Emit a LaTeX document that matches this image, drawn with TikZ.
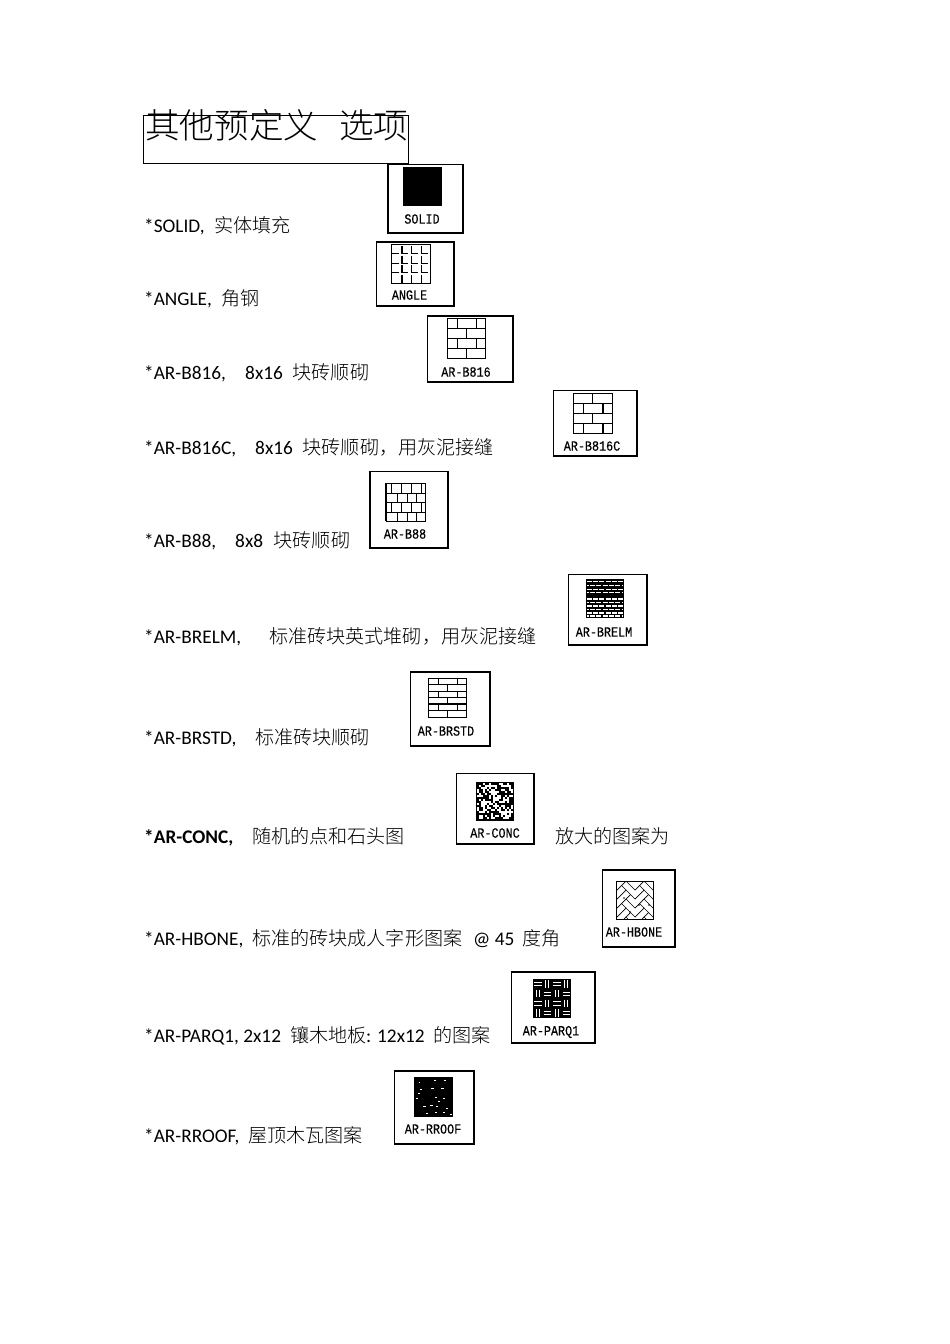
\documentclass[tikz,border=0pt]{standalone}
\usepackage{fontspec}
\setmainfont{Carlito}
\newfontfamily\cjk[UprightFont=* Light]{Noto Sans CJK SC}
\newfontfamily\lblfont[FakeStretch=0.84,FakeBold=0.25]{Liberation Mono}
\usetikzlibrary{calc}
\newcommand{\seg}[2]{\makebox[#1pt][l]{#2}}
\newcommand{\zh}[1]{{\cjk\fontsize{19.1}{22}\selectfont #1}}
\tikzset{
  rowtext/.style={anchor=base west,inner sep=0pt,font=\fontsize{19.3}{22}\selectfont,text=black},
  titletext/.style={anchor=base west,inner sep=0pt},
  framebox/.style={draw=black,line width=1.1pt,fill=white},
  shadowline/.style={draw=black,line width=1.8pt},
  patlabel/.style={inner sep=0pt,font=\lblfont\fontsize{14}{15}\selectfont},
  patline/.style={draw=black,line width=0.9pt},
  patthick/.style={draw=black,line width=1.9pt}
}
% name, x0,y0,x1,y1, label, lx,ly
\newcommand{\patbox}[8]{%
  \draw[framebox] (#2,#3) rectangle (#4,#5);
  \draw[shadowline] (#4,#3) -- (#4,#5) -- (#2,#5);
  \node[patlabel] (#1) at (#7,#8) {#6};
}
\begin{document}
\begin{tikzpicture}[x=1pt,y=-1pt]
\useasboundingbox (0,0) rectangle (950,1344);
\fill[white] (0,0) rectangle (950,1344);

% title
\draw[line width=0.8pt] (143.5,115) rectangle (408,163);
\node[titletext] (title) at (145,138) {{\cjk\fontsize{34.6}{40}\selectfont 其他预定义\hspace{21pt}选项}};

% text rows
\node[rowtext] (r1) at (144,232) {\seg{70}{*SOLID,}\zh{实体填充}};
\node[rowtext] (r2) at (144,305) {\seg{77}{*ANGLE,}\zh{角钢}};
\node[rowtext] (r3) at (144,379) {\seg{101}{*AR-B816,}\seg{47.5}{8x16}\zh{块砖顺砌}};
\node[rowtext] (r4) at (144,454) {\seg{111}{*AR-B816C,}\seg{47.5}{8x16}\zh{块砖顺砌，用灰泥接缝}};
\node[rowtext] (r5) at (144,547) {\seg{91}{*AR-B88,}\seg{38.5}{8x8}\zh{块砖顺砌}};
\node[rowtext] (r6) at (144,643) {\seg{125}{*AR-BRELM,}\zh{标准砖块英式堆砌，用灰泥接缝}};
\node[rowtext] (r7) at (144,744) {\seg{111}{*AR-BRSTD,}\zh{标准砖块顺砌}};
\node[rowtext] (r8) at (144,843) {\seg{108}{\textbf{*AR-CONC,}}\seg{303}{\zh{随机的点和石头图}}\zh{放大的图案为}};
\node[rowtext] (r9) at (144,945) {\seg{108}{*AR-HBONE,}\seg{221}{\zh{标准的砖块成人字形图案}}\seg{49}{@ 45}\zh{度角}};
\node[rowtext] (r10) at (144,1042) {\seg{146}{*AR-PARQ1, 2x12}\seg{76}{\zh{镶木地板}}\seg{67}{: 12x12}\zh{的图案}};
\node[rowtext] (r11) at (144,1142) {\seg{104}{*AR-RROOF,}\zh{屋顶木瓦图案}};

% SOLID
\patbox{lsolid}{388}{164.5}{463}{233}{SOLID}{422}{219}
\fill[black] (403,167) rectangle (442,206);

% ANGLE
\patbox{langle}{376.5}{242}{454}{306}{ANGLE}{409.5}{295}
\begin{scope}[shift={(391,244)}]
  \draw[patline] (0,0) rectangle (39,39);
  \foreach \ri in {0,1,2,3}{
    \foreach \ci in {0,1,2,3}{
      \ifnum\ri<3 \draw[patline] ({\ci*9.7+0.5},{\ri*9.7+9.5}) -- ({\ci*9.7+7.5},{\ri*9.7+9.5}); \fi
    }
    \foreach \ci/\wd in {1/1.5,2/0.8,3/0.8}{
      \draw[draw=black,line width=\wd pt] ({\ci*9.7+1.2},{\ri*9.7+2}) -- ({\ci*9.7+1.2},{min(\ri*9.7+9.5,39)});
    }
  }
\end{scope}

% AR-B816
\patbox{lbes}{427.5}{316}{513}{382}{AR-B816}{466}{372}
\begin{scope}[shift={(447,318)}]
  \draw[patline] (0,0) rectangle (38,40);
  \foreach \y in {10,20,30}{\draw[patline] (0,\y) -- (38,\y);}
  \foreach \y/\x in {0/10,0/29,10/19,20/10,20/29,30/19}{\draw[patline] (\x,\y) -- (\x,\y+10);}
\end{scope}

% AR-B816C
\patbox{lbesc}{553.5}{390.5}{637}{456}{AR-B816C}{592}{446}
\begin{scope}[shift={(573,393)}]
  \draw[patline] (0,0) rectangle (39,40);
  \foreach \y in {10,20,30}{\draw[patline] (0,\y) -- (39,\y);}
  \foreach \y/\x in {0/19,10/10,20/19,30/10}{\draw[patline] (\x,\y) -- (\x,\y+10);}
  \foreach \y in {10,30}{\draw[patthick] (30,\y) -- (30,\y+10);}
\end{scope}

% AR-B88
\patbox{lbee}{370}{471.5}{448}{548}{AR-B88}{405}{534}
\begin{scope}[shift={(386,483)}]
  \draw[patline] (0,0) rectangle (39,38);
  \draw[patthick] (0,0) -- (0,38);
  \foreach \y in {10,19,29}{\draw[patline] (0,\y) -- (39,\y);}
  \foreach \x in {5,15,25,35}{
    \draw[patline] (\x,0) -- (\x,10);
    \draw[patline] (\x,19) -- (\x,29);
  }
  \foreach \x in {11,21,30}{
    \draw[patline] (\x,10) -- (\x,19);
    \draw[patline] (\x,29) -- (\x,38);
  }
\end{scope}

% AR-BRELM
\patbox{lbrelm}{568.5}{574.5}{647}{645}{AR-BRELM}{604}{632}
\begin{scope}[shift={(586,579)}]
  \fill[black] (0,0) rectangle (38,39);
  \foreach \y/\o in {2.5/0,6.5/3,10.5/0,13.5/3,20/0,23.5/3,27/0,30.5/3,34/0,37/3}{
    \draw[white,line width=1.4pt,dash pattern=on 5pt off 1.3pt,dash phase=\o pt] (0.8,\y) -- (37.2,\y);
  }
\end{scope}

% AR-BRSTD
\patbox{lbrstd}{410.5}{672}{490}{746}{AR-BRSTD}{446}{731}
\begin{scope}[shift={(428,678)}]
  \draw[patline] (0,0) rectangle (38,39);
  \foreach \y in {6.5,13,19.5,32.5}{\draw[patline] (0,\y) -- (38,\y);}
  \draw[patthick] (0,26) -- (38,26);
  \foreach \y/\x in {0/10,0/29,6.5/19,13/10,13/29,19.5/19,26/10,26/29,32.5/19}{\draw[patline] (\x,\y) -- (\x,\y+6.5);}
\end{scope}

% AR-CONC
\patbox{lconc}{456.5}{773.5}{534}{844}{AR-CONC}{495}{833}
\begin{scope}[shift={(476,782)}]
  \fill[black] (0,0) rectangle (38,39);
  \pgfmathsetseed{77}
  \foreach \ii in {0,...,17}{
    \foreach \jj in {0,...,17}{
      \pgfmathsetmacro{\rv}{rand}
      \ifdim\rv pt<0.05pt
        \fill[white] ({\ii*2+1},{\jj*2+1}) rectangle ++(2,2);
      \fi
    }
  }
\end{scope}

% AR-HBONE
\patbox{lhbone}{602.5}{870}{675}{947}{AR-HBONE}{634}{932}
\begin{scope}[shift={(616,881)}]
  \begin{scope}
    \clip (0,0) rectangle (37,38);
    \foreach \ri in {-2,...,5}{
      \foreach \ci in {-1,0,1,2}{
        \draw[line width=0.7pt] ({\ci*18+1},{\ri*9+9}) -- ({\ci*18+10},{\ri*9}) -- ({\ci*18+19},{\ri*9+9});
      }
    }
    \foreach \ri in {-2,0,2,4}{
      \foreach \ci in {-1,0,1,2}{
        \draw[line width=0.7pt] ({\ci*18+5.5},{\ri*9+4.5}) -- ({\ci*18+10},{\ri*9+9});
        \draw[line width=0.7pt] ({\ci*18+14.5},{\ri*9+13.5}) -- ({\ci*18+10},{\ri*9+18});
      }
    }
    \foreach \x/\y in {8/17,23/24,33/24,14/31}{\fill (\x,\y) circle (0.8);}
  \end{scope}
  \draw[patline] (0,0) rectangle (37,38);
\end{scope}

% AR-PARQ1
\patbox{lparq}{511.5}{972}{595}{1043}{AR-PARQ1}{551}{1032}
\begin{scope}[shift={(533,979)}]
  \fill[black] (0,0) rectangle (38,39);
  \foreach \ri in {0,1,2,3}{
    \foreach \ci in {0,1,2,3}{
      \pgfmathtruncatemacro{\parity}{mod(\ri+\ci,2)}
      \ifnum\parity=0
        \draw[white,line width=1.1pt] ({\ci*9.5+1},{\ri*9.75+3.3}) -- ({\ci*9.5+8.5},{\ri*9.75+3.3});
        \draw[white,line width=1.1pt] ({\ci*9.5+1},{\ri*9.75+6.6}) -- ({\ci*9.5+8.5},{\ri*9.75+6.6});
      \else
        \draw[white,line width=1.1pt] ({\ci*9.5+3.2},{\ri*9.75+1}) -- ({\ci*9.5+3.2},{\ri*9.75+8.7});
        \draw[white,line width=1.1pt] ({\ci*9.5+6.4},{\ri*9.75+1}) -- ({\ci*9.5+6.4},{\ri*9.75+8.7});
      \fi
    }
  }
\end{scope}

% AR-RROOF
\patbox{lrroof}{394.5}{1071}{474}{1144}{AR-RROOF}{433}{1129}
\begin{scope}[shift={(414,1077)}]
  \fill[black] (0,0) rectangle (39,40);
  \foreach \x/\y/\w in {20/3/2,30/3/1.5,5/5/1,6/12/2,17/11/3,27/11/3,4/16/1.5,2/21/1.5,21/20/2,29/21/1.5,24/24/2,9/29/3,16/28/3,22/29/2,32/31/2,12/36/2,21/35/2,29/35/1.5,36/37/2}{
    \fill[white] (\x,\y) rectangle ++(\w,0.9);
  }
\end{scope}
\end{tikzpicture}
\end{document}
